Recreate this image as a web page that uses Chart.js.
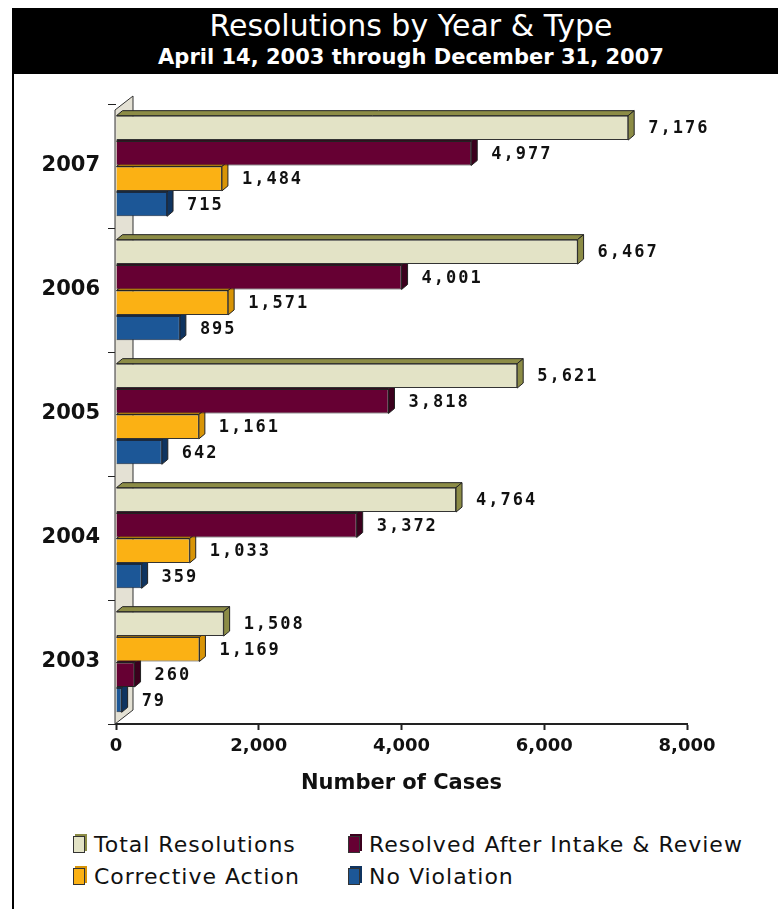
<!DOCTYPE html>
<html>
<head>
<meta charset="utf-8">
<title>Resolutions by Year & Type</title>
<script src="https://cdn.jsdelivr.net/npm/chart.js@4.4.0/dist/chart.umd.min.js"></script>
<style>
  html, body { margin: 0; padding: 0; background: #fff; }
  body { width: 778px; height: 909px; position: relative; overflow: hidden; font-family: 'DejaVu Sans', Verdana, sans-serif; }
  #chartBox { position: absolute; left: 0; top: 0; width: 778px; height: 800px; }
  #titleBar { position: absolute; left: 12px; top: 8px; width: 766px; height: 66px; background: #000; color: #fff; text-align: center; }
  #titleBar .main { font-size: 30px; line-height: 34px; padding-top: 1px; padding-left: 32px; }
  #titleBar .sub { font-size: 21px; font-weight: bold; line-height: 28px; padding-left: 32px; }
  #frame { position: absolute; left: 12px; top: 74px; width: 2px; height: 835px; background: #000; }
  .legend-item { position: absolute; font-size: 22px; letter-spacing: 1px; color: #111; line-height: 26px; white-space: nowrap; }
  .legend-item .box { display: inline-block; width: 10px; height: 15px; border: 1px solid #333; vertical-align: -1px; margin-right: 9px; }
</style>
</head>
<body>
<div id="chartBox"><canvas id="resolutionsChart" width="778" height="800"></canvas></div>
<div id="titleBar">
  <div class="main">Resolutions by Year &amp; Type</div>
  <div class="sub">April 14, 2003 through December 31, 2007</div>
</div>
<div id="frame"></div>
<div id="legend"></div>

<script>
// Data
const years = ['2007', '2006', '2005', '2004', '2003'];
const totalResolutions = [7176, 6467, 5621, 4764, 1508];
const resolvedAfterIntake = [4977, 4001, 3818, 3372, 260];
const correctiveAction = [1484, 1571, 1161, 1033, 1169];
const noViolation = [715, 895, 642, 359, 79];
const xTicks = [0, 2000, 4000, 6000, 8000];

// in 2003 the maroon bar sits below the orange one
const swappedYear = '2003';

const colors = {
    total:      { fill: '#e3e3c6', side: '#8c8c46', edge: '#333' },
    resolved:   { fill: '#660033', side: '#3b001d', edge: '#222' },
    corrective: { fill: '#fbb114', side: '#d89406', edge: '#333' },
    noViol:     { fill: '#1c5797', side: '#0f3460', edge: '#1a2a40' }
};

const resolvedMain = resolvedAfterIntake.map((v, i) => years[i] === swappedYear ? null : v);
const resolvedLate = resolvedAfterIntake.map((v, i) => years[i] === swappedYear ? v : null);

function bar(label, data, c, legend) {
    return {
        label: label,
        data: data,
        backgroundColor: c.fill,
        borderColor: c.edge,
        borderWidth: 1,
        sideColor: c.side,
        inLegend: legend
    };
}

const DEPTH_X = 6, DEPTH_Y = 5;

// draws the 3D wall and the side/top faces of each bar
const depthPlugin = {
    id: 'depth',
    beforeDatasetsDraw(chart) {
        const ctx = chart.ctx;
        const area = chart.chartArea;
        ctx.save();
        // back wall
        ctx.fillStyle = '#e4e1d4';
        ctx.strokeStyle = '#333';
        ctx.lineWidth = 1;
        ctx.beginPath();
        ctx.moveTo(area.left - 1, area.top + 6);
        ctx.lineTo(area.left + 17, area.top - 8);
        ctx.lineTo(area.left + 17, area.bottom - 14);
        ctx.lineTo(area.left - 1, area.bottom);
        ctx.closePath();
        ctx.fill();
        ctx.stroke();

        chart.data.datasets.forEach((ds, di) => {
            const meta = chart.getDatasetMeta(di);
            if (meta.hidden) return;
            meta.data.forEach((el, i) => {
                if (ds.data[i] == null) return;
                const p = el.getProps(['x', 'y', 'base', 'height'], true);
                const top = p.y - p.height / 2, bot = p.y + p.height / 2;
                ctx.fillStyle = ds.sideColor;
                ctx.strokeStyle = '#222';
                // top face
                ctx.beginPath();
                ctx.moveTo(p.base, top);
                ctx.lineTo(p.base + DEPTH_X, top - DEPTH_Y);
                ctx.lineTo(p.x + DEPTH_X, top - DEPTH_Y);
                ctx.lineTo(p.x, top);
                ctx.closePath();
                ctx.fill();
                ctx.stroke();
                // right face
                ctx.beginPath();
                ctx.moveTo(p.x, top);
                ctx.lineTo(p.x + DEPTH_X, top - DEPTH_Y);
                ctx.lineTo(p.x + DEPTH_X, bot - DEPTH_Y);
                ctx.lineTo(p.x, bot);
                ctx.closePath();
                ctx.fill();
                ctx.stroke();
            });
        });
        ctx.restore();
    },
    afterDatasetsDraw(chart) {
        const ctx = chart.ctx;
        ctx.save();
        ctx.font = 'bold 17px "DejaVu Sans Mono", monospace';
        ctx.letterSpacing = '2px';
        ctx.fillStyle = '#111';
        ctx.textBaseline = 'middle';
        ctx.textAlign = 'left';
        chart.data.datasets.forEach((ds, di) => {
            const meta = chart.getDatasetMeta(di);
            meta.data.forEach((el, i) => {
                const v = ds.data[i];
                if (v == null) return;
                const p = el.getProps(['x', 'y'], true);
                ctx.fillText(v.toLocaleString('en-US'), p.x + DEPTH_X + 14, p.y + 1);
            });
        });
        ctx.restore();
    }
};

const ctx = document.getElementById('resolutionsChart');
const chart = new Chart(ctx, {
    type: 'bar',
    data: {
        labels: years,
        datasets: [
            bar('Total Resolutions', totalResolutions, colors.total, true),
            bar('Resolved After Intake & Review', resolvedMain, colors.resolved, true),
            bar('Corrective Action', correctiveAction, colors.corrective, true),
            bar('Resolved After Intake & Review', resolvedLate, colors.resolved, false),
            bar('No Violation', noViolation, colors.noViol, true)
        ]
    },
    options: {
        indexAxis: 'y',
        responsive: false,
        animation: false,
        skipNull: true,
        categoryPercentage: 0.82,
        barPercentage: 0.96,
        layout: { padding: { left: 0, right: 91, top: 104, bottom: 0 } },
        plugins: {
            legend: { display: false },
            title: { display: false },
            tooltip: { enabled: false }
        },
        scales: {
            x: {
                min: 0,
                max: 8000,
                afterBuildTicks: scale => { scale.ticks = xTicks.map(v => ({ value: v })); },
                afterFit: scale => { scale.height = 76; },
                grid: { drawOnChartArea: false, tickLength: 6, color: '#222', tickWidth: 2 },
                border: { color: '#222', width: 2 },
                ticks: {
                    color: '#111',
                    padding: 6,
                    font: { family: 'DejaVu Sans', size: 18, weight: 'bold' },
                    callback: v => v.toLocaleString('en-US')
                },
                title: {
                    display: true,
                    text: 'Number of Cases',
                    color: '#111',
                    font: { family: 'DejaVu Sans', size: 21, weight: 'bold' },
                    padding: { top: 0, bottom: 4 }
                }
            },
            y: {
                afterFit: scale => { scale.width = 116; },
                grid: { offset: true, drawOnChartArea: false, tickLength: 8, color: '#222' },
                border: { display: false },
                ticks: {
                    color: '#111',
                    padding: 8,
                    font: { family: 'DejaVu Sans', size: 21, weight: 'bold' }
                }
            }
        }
    },
    plugins: [depthPlugin]
});

// legend laid out as in the reference: two columns, two rows
const legendPos = [[73, 832], [348, 832], [73, 864], [348, 864]];
const legendEl = document.getElementById('legend');
chart.data.datasets.filter(ds => ds.inLegend).forEach((ds, i) => {
    const item = document.createElement('div');
    item.className = 'legend-item';
    item.style.left = legendPos[i][0] + 'px';
    item.style.top = legendPos[i][1] + 'px';
    const box = document.createElement('span');
    box.className = 'box';
    box.style.background = ds.backgroundColor;
    box.style.boxShadow = '2px -2px 0 ' + ds.sideColor;
    item.appendChild(box);
    item.appendChild(document.createTextNode(ds.label));
    legendEl.appendChild(item);
});
</script>
</body>
</html>
